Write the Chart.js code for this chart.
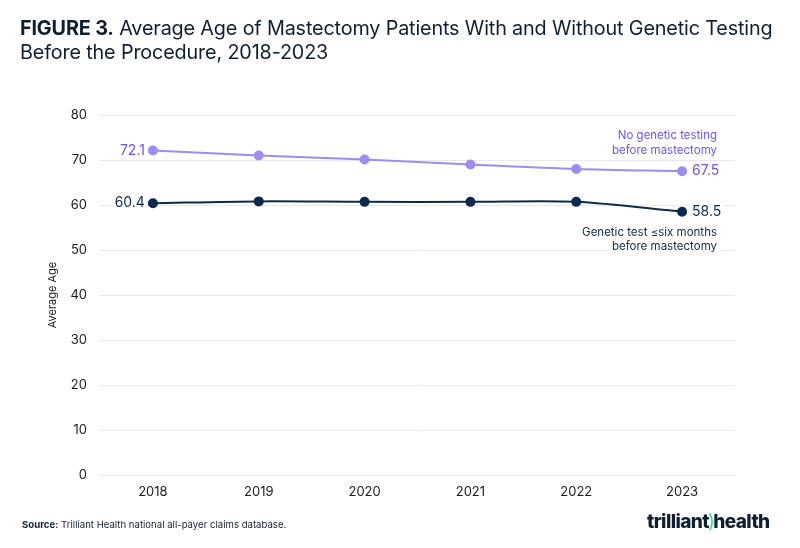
<!DOCTYPE html>
<html>
<head>
<meta charset="utf-8">
<script src="https://cdn.jsdelivr.net/npm/chart.js@4"></script>
<style>
  html, body { margin:0; padding:0; background:#fff; }
  #wrap { position:relative; width:800px; height:548px; overflow:hidden; font-family: Inter, "Noto Sans", sans-serif; }
  #chart { position:absolute; left:0; top:0; }
  #title { position:absolute; left:20px; top:16px; font-size:19.8px; line-height:24px; color:#0f1f33; letter-spacing:-0.15px; }
  #title b { font-weight:700; }
  #source { position:absolute; left:22px; top:519px; font-size:9.6px; color:#0f1f33; }
  #logo { position:absolute; left:647px; top:510px; font-size:19px; font-weight:800; color:#0f1f33; letter-spacing:-0.6px; }
  #logo span.s { color:#3ddc97; font-weight:400; margin:0 -1px; }
</style>
</head>
<body>
<div id="wrap">
  <canvas id="chart" width="800" height="548"></canvas>
  <div id="title"><b>FIGURE 3.</b> Average Age of Mastectomy Patients With and Without Genetic Testing<br>Before the Procedure, 2018-2023</div>
  <div id="source"><b>Source:</b> Trilliant Health national all-payer claims database.</div>
  <div id="logo">trilliant<span class="s">)</span>health</div>
</div>
<script>
const years = ["2018", "2019", "2020", "2021", "2022", "2023"];
const noTestLabel = ["No genetic testing", "before mastectomy"];
const noTestValues = [72.1, 71.0, 70.1, 69.0, 68.0, 67.5];
const testLabel = ["Genetic test \u2264six months", "before mastectomy"];
const testValues = [60.4, 60.8, 60.7, 60.7, 60.7, 58.5];
const yTicks = [0, 10, 20, 30, 40, 50, 60, 70, 80];

const PURPLE_LINE = "#9d8cf2";
const PURPLE_TEXT = "#6f55ee";
const NAVY = "#0c2a4f";
const FONT = "Inter, 'Noto Sans', sans-serif";

function drawBoxText(ctx, text, x, y, align, color, size) {
  ctx.font = size + "px " + FONT;
  const w = ctx.measureText(text).width;
  let left = align === "right" ? x - w : (align === "center" ? x - w/2 : x);
  ctx.fillStyle = "#fff";
  ctx.fillRect(left - 3, y - size/2 - 2, w + 6, size + 4);
  ctx.fillStyle = color;
  ctx.textAlign = align;
  ctx.textBaseline = "middle";
  ctx.fillText(text, x, y);
}

const labelPlugin = {
  id: "labelPlugin",
  afterDatasetsDraw(chart) {
    const ctx = chart.ctx;
    ctx.save();
    chart.data.datasets.forEach((ds, i) => {
      const meta = chart.getDatasetMeta(i);
      const first = meta.data[0], last = meta.data[meta.data.length - 1];
      const color = i === 0 ? PURPLE_TEXT : NAVY;
      drawBoxText(ctx, ds.data[0].toFixed(1), first.x - 8, first.y, "right", color, 14);
      drawBoxText(ctx, ds.data[ds.data.length - 1].toFixed(1), last.x + 10, last.y, "left", color, 14);
    });
    const right = chart.chartArea.right - 18;
    const m0 = chart.getDatasetMeta(0).data;
    const m1 = chart.getDatasetMeta(1).data;
    const p0 = m0[m0.length - 1].y, p1 = m1[m1.length - 1].y;
    drawBoxText(ctx, noTestLabel[0], right, p0 - 36, "right", PURPLE_TEXT, 11.5);
    drawBoxText(ctx, noTestLabel[1], right, p0 - 21, "right", PURPLE_TEXT, 11.5);
    drawBoxText(ctx, testLabel[0], right, p1 + 21, "right", NAVY, 11.5);
    drawBoxText(ctx, testLabel[1], right, p1 + 35, "right", NAVY, 11.5);
    ctx.restore();
  }
};

new Chart(document.getElementById("chart"), {
  type: "line",
  data: {
    labels: years,
    datasets: [
      { label: noTestLabel.join(" "), data: noTestValues, borderColor: PURPLE_LINE, backgroundColor: PURPLE_LINE,
        pointBackgroundColor: PURPLE_LINE, pointBorderColor: PURPLE_LINE, pointRadius: 4, borderWidth: 2, tension: 0.3 },
      { label: testLabel.join(" "), data: testValues, borderColor: NAVY, backgroundColor: NAVY,
        pointBackgroundColor: NAVY, pointBorderColor: NAVY, pointRadius: 4, borderWidth: 2, tension: 0.3 }
    ]
  },
  options: {
    responsive: false,
    animation: false,
    layout: { padding: { left: 46, top: 115, right: 65, bottom: 0 } },
    plugins: { legend: { display: false }, tooltip: { enabled: false }, title: { display: false } },
    scales: {
      x: {
        offset: true,
        grid: { display: false, drawTicks: false },
        border: { display: false },
        ticks: { color: "#1a1a1a", font: { family: FONT, size: 13 }, padding: 9 },
        afterFit(scale) { scale.height = 73; }
      },
      y: {
        min: 0, max: 80,
        afterBuildTicks(scale) { scale.ticks = yTicks.map(v => ({ value: v })); },
        grid: { color: "#e9e9e9", lineWidth: 1, drawTicks: false },
        border: { display: false },
        ticks: { color: "#1a1a1a", font: { family: FONT, size: 13 }, padding: 13 },
        title: { display: true, text: "Average Age", color: "#1a1a1a", font: { family: FONT, size: 11 }, padding: { top: 0, bottom: 0 } },
        afterFit(scale) { scale.width = 54; }
      }
    }
  },
  plugins: [labelPlugin]
});
</script>
</body>
</html>
